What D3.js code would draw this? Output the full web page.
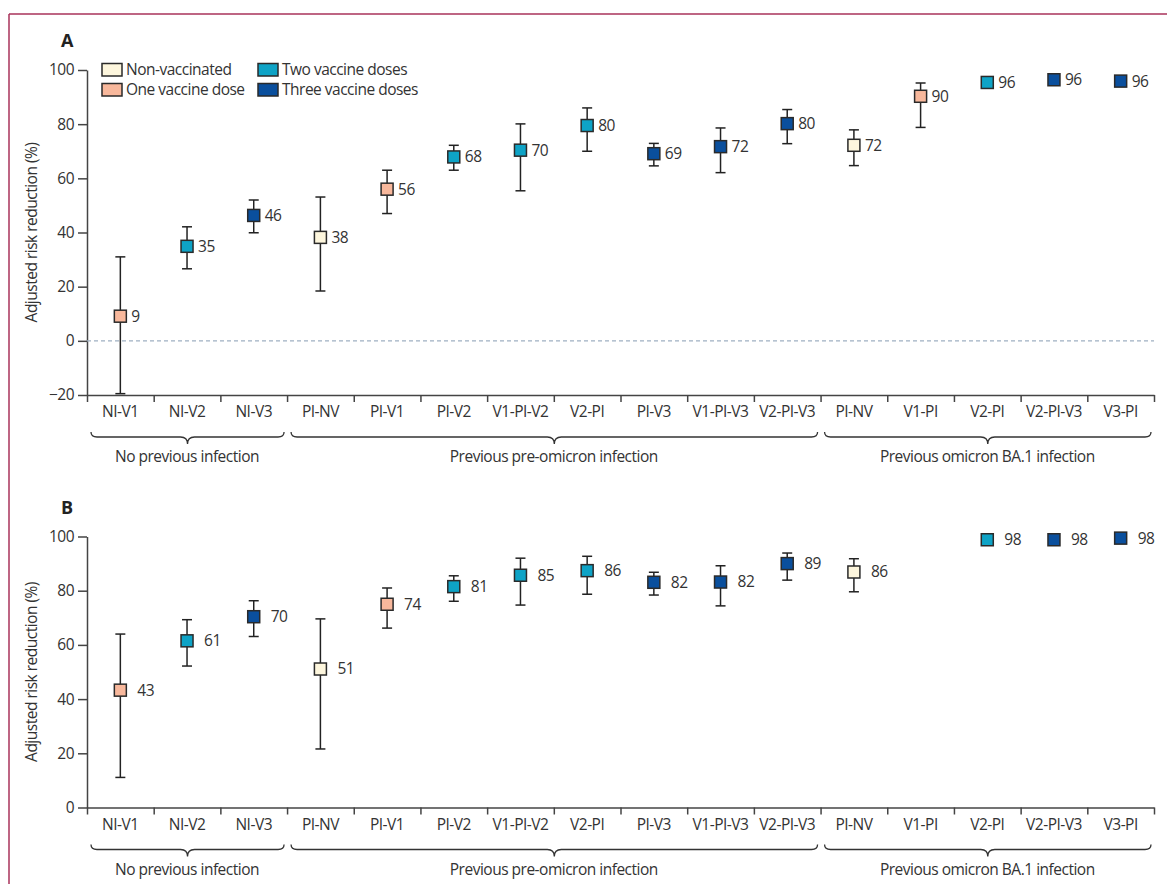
<!DOCTYPE html>
<html>
<head>
<meta charset="utf-8">
<script src="https://cdn.jsdelivr.net/npm/d3@7"></script>
<style>
  body { margin: 0; background: #fff; }
  text { font-family: "Open Sans", "Noto Sans", sans-serif; fill: #333; letter-spacing: -0.5px; }
</style>
</head>
<body>
<div id="container"></div>
<script>
// categories along the x axis (same for both panels)
var categories = ["NI-V1","NI-V2","NI-V3","PI-NV","PI-V1","PI-V2","V1-PI-V2","V2-PI",
                  "PI-V3","V1-PI-V3","V2-PI-V3","PI-NV","V1-PI","V2-PI","V2-PI-V3","V3-PI"];
// number of vaccine doses for each category (0..3)
var doses = [1,2,3,0,1,2,2,2,3,3,3,0,1,2,3,3];

var groups = ["No previous infection","Previous pre-omicron infection","Previous omicron BA.1 infection"];
var groupStart = [0, 3, 11];
var groupEnd = [3, 11, 16];

var legendLabels = ["Non-vaccinated","One vaccine dose","Two vaccine doses","Three vaccine doses"];

// panel A
var aValues = [9.1,34.9,46.3,38.2,56,67.9,70.4,79.5,69.1,71.7,80.2,72.2,90.3,95.4,96.4,95.9];
var aLabels = ["9","35","46","38","56","68","70","80","69","72","80","72","90","96","96","96"];
var aLower  = [-19.5,26.6,39.9,18.4,47,63,55.4,70,64.6,62.1,72.8,64.7,78.8,null,null,null];
var aUpper  = [31,42.1,52,53.1,63,72.2,80.1,86,72.9,78.6,85.4,77.9,95.2,null,null,null];
var aTicks  = [-20,0,20,40,60,80,100];

// panel B
var bValues = [43.3,61.5,70.4,51.1,75,81.5,85.7,87.4,83.1,83.2,90,86.9,null,98.8,98.8,99.4];
var bLabels = ["43","61","70","51","74","81","85","86","82","82","89","86","","98","98","98"];
var bLower  = [11.1,52.2,63.1,21.6,66.2,76.1,74.7,78.7,78.4,74.4,83.9,79.6,null,null,null,null];
var bUpper  = [64,69.3,76.3,69.6,81,85.5,92,92.7,86.8,89.2,93.9,91.8,null,null,null,null];
var bTicks  = [0,20,40,60,80,100];

var colors = ["#fdf6dd","#f8b89c","#0ea3c6","#0a4f9d"];

var W = 1167, H = 884;
var left = 87, right = 1154;
var fs = "15.5px";
var ff = '"Open Sans", "Noto Sans", sans-serif';

var svg = d3.select("#container")
  .append("svg")
    .attr("width", W)
    .attr("height", H);

// frame lines
svg.append("line").attr("x1", 9).attr("x2", W).attr("y1", 14).attr("y2", 14)
  .attr("stroke", "#a8325a").attr("stroke-width", 1.5);
svg.append("line").attr("x1", 9).attr("x2", 9).attr("y1", 14).attr("y2", H)
  .attr("stroke", "#a8325a").attr("stroke-width", 1.5);

var x = d3.scaleBand()
  .domain(d3.range(categories.length))
  .range([left, right])
  .padding(0);

var xi = d3.scaleLinear()
  .domain([0, categories.length])
  .range([left, right]);

function drawPanel(p) {
  var y = d3.scaleLinear().domain(p.domain).range([p.bottom, p.top]);
  var g = svg.append("g");

  // panel letter
  g.append("text")
    .attr("x", 61).attr("y", p.top - 23)
    .style("font-size", "18px").style("font-weight", "bold")
    .style("fill", "#222")
    .text(p.letter);

  // y axis
  var ya = g.append("g")
    .attr("transform", "translate(" + left + ",0)")
    .call(d3.axisLeft(y).tickValues(p.ticks).tickSize(9).tickSizeOuter(0).tickPadding(4)
      .tickFormat(function (d) { return d < 0 ? "\u221220" : d; }));
  ya.selectAll("text").style("font-size", fs).style("fill", "#333").style("font-family", ff);
  ya.selectAll("line,path").attr("stroke", "#444").attr("stroke-width", 1.5);

  g.append("text")
    .attr("transform", "translate(32," + ((p.top + p.bottom) / 2) + ") rotate(-90)")
    .attr("text-anchor", "middle")
    .attr("dy", "0.35em")
    .style("font-size", fs)
    .text("Adjusted risk reduction (%)");

  // zero line
  if (p.domain[0] < 0) {
    g.append("line")
      .attr("x1", left).attr("x2", right)
      .attr("y1", y(0)).attr("y2", y(0))
      .attr("stroke", "#9fb0c2").attr("stroke-width", 1.2)
      .attr("stroke-dasharray", "4,3");
  }

  // x axis: labels
  var xa = g.append("g")
    .attr("transform", "translate(0," + p.bottom + ")")
    .call(d3.axisBottom(x).tickSize(0).tickPadding(11)
      .tickFormat(function (i) { return categories[i]; }));
  xa.selectAll("text").style("font-size", fs).style("fill", "#333").style("font-family", ff);
  xa.select(".domain").attr("stroke", "#444").attr("stroke-width", 1.5);

  // x axis: boundary ticks
  var xt = g.append("g")
    .attr("transform", "translate(0," + p.bottom + ")")
    .call(d3.axisBottom(xi).tickValues(d3.range(categories.length + 1)).tickSize(7).tickFormat(""));
  xt.select(".domain").remove();
  xt.selectAll("line").attr("stroke", "#444").attr("stroke-width", 1.5);

  // braces + group labels
  var yTop = p.bottom + 37, yMid = p.bottom + 42, yBot = p.bottom + 49;
  groups.forEach(function (name, k) {
    var x0 = xi(groupStart[k]) + 4, x1 = xi(groupEnd[k]) - 3, cx = (x0 + x1) / 2;
    var path = d3.path();
    path.moveTo(x0, yTop);
    path.quadraticCurveTo(x0, yMid, x0 + 6, yMid);
    path.lineTo(cx - 7, yMid);
    path.quadraticCurveTo(cx, yMid, cx, yBot);
    path.quadraticCurveTo(cx, yMid, cx + 7, yMid);
    path.lineTo(x1 - 6, yMid);
    path.quadraticCurveTo(x1, yMid, x1, yTop);
    g.append("path").attr("d", path.toString())
      .attr("fill", "none").attr("stroke", "#333").attr("stroke-width", 1.3);
    g.append("text")
      .attr("x", (xi(groupStart[k]) + xi(groupEnd[k])) / 2)
      .attr("y", p.bottom + 62)
      .attr("dy", "0.35em")
      .attr("text-anchor", "middle")
      .style("font-size", fs)
      .text(name);
  });

  var idx = d3.range(categories.length);
  var cx = function (i) { return x(i) + x.bandwidth() / 2; };

  // error bars
  var ci = idx.filter(function (i) { return p.lower[i] != null; });
  var eb = g.append("g").attr("stroke", "#222").attr("stroke-width", 1.5);
  eb.selectAll(".v").data(ci).enter().append("line")
    .attr("x1", cx).attr("x2", cx)
    .attr("y1", function (i) { return y(p.lower[i]); })
    .attr("y2", function (i) { return y(p.upper[i]); });
  eb.selectAll(".lo").data(ci).enter().append("line")
    .attr("x1", function (i) { return cx(i) - 5; }).attr("x2", function (i) { return cx(i) + 5; })
    .attr("y1", function (i) { return y(p.lower[i]); })
    .attr("y2", function (i) { return y(p.lower[i]); });
  eb.selectAll(".hi").data(ci).enter().append("line")
    .attr("x1", function (i) { return cx(i) - 5; }).attr("x2", function (i) { return cx(i) + 5; })
    .attr("y1", function (i) { return y(p.upper[i]); })
    .attr("y2", function (i) { return y(p.upper[i]); });

  // points
  var pts = idx.filter(function (i) { return p.values[i] != null; });
  g.append("g").selectAll("rect").data(pts).enter().append("rect")
    .attr("x", function (i) { return cx(i) - 6; })
    .attr("y", function (i) { return y(p.values[i]) - 6; })
    .attr("width", 12).attr("height", 12)
    .attr("fill", function (i) { return colors[doses[i]]; })
    .attr("stroke", "#2a2a2a").attr("stroke-width", 1.5);

  g.append("g").selectAll("text").data(pts).enter().append("text")
    .attr("x", function (i) { return cx(i) + p.labelOffset; })
    .attr("y", function (i) { return y(p.values[i]); })
    .attr("dy", "0.35em")
    .style("font-size", fs)
    .text(function (i) { return p.labels[i]; });
}

drawPanel({ letter: "A", domain: [-20, 100], top: 70, bottom: 395, ticks: aTicks,
  values: aValues, labels: aLabels, lower: aLower, upper: aUpper, labelOffset: 11 });
drawPanel({ letter: "B", domain: [0, 100], top: 536.5, bottom: 807.5, ticks: bTicks,
  values: bValues, labels: bLabels, lower: bLower, upper: bUpper, labelOffset: 17 });

// legend
var legend = svg.append("g");
var legX = [102, 102, 258, 258], legY = [63.5, 83.5, 63.5, 83.5];
legendLabels.forEach(function (name, k) {
  legend.append("rect")
    .attr("x", legX[k]).attr("y", legY[k])
    .attr("width", 20).attr("height", 12.5)
    .attr("fill", colors[k]).attr("stroke", "#2a2a2a").attr("stroke-width", 1.5);
  legend.append("text")
    .attr("x", legX[k] + 24).attr("y", legY[k] + 6.5)
    .attr("dy", "0.35em")
    .style("font-size", fs)
    .text(name);
});
</script>
</body>
</html>
